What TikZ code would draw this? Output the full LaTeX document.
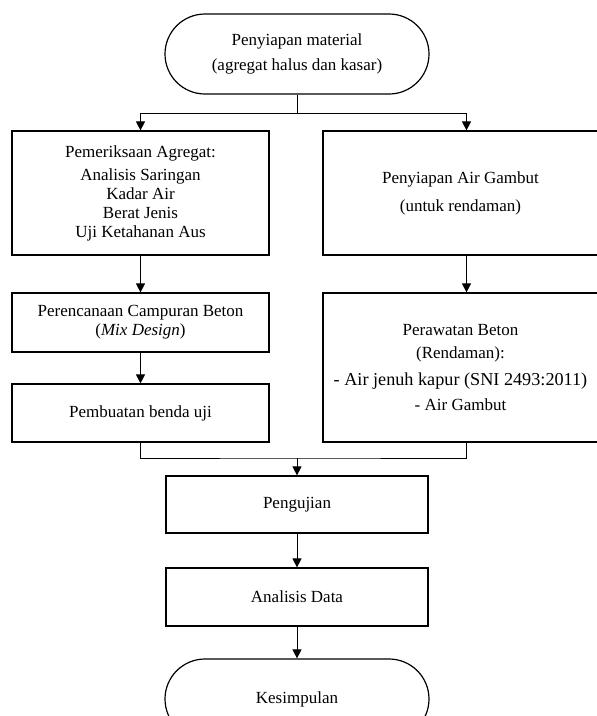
\documentclass[tikz,border=0pt]{standalone}
\usepackage{fontspec}
\setmainfont{Liberation Serif}
\usetikzlibrary{arrows.meta,positioning}

\tikzset{
  box/.style={draw, line width=1.2pt, align=center, inner sep=0pt},
  term/.style={box, rounded corners=40pt, minimum width=264pt, minimum height=80pt},
  link/.style={line width=1pt},
  flow/.style={link, -{Triangle[length=9pt,width=9pt]}}
}
\newcommand{\besar}{\fontsize{18.2}{19}\selectfont}

\begin{document}
\begin{tikzpicture}[x=1pt, y=-1pt, font=\fontsize{17}{19}\selectfont]
        \useasboundingbox (0,0) rectangle (597,716);
        \node[term] (mat) at (297,54) {Penyiapan material\\[6pt](agregat halus dan kasar)};
        \node[box, minimum width=257pt, minimum height=124pt] (periksa) at (140.5,193)
          {Pemeriksaan Agregat:\\[4pt]Analisis Saringan\\Kadar Air\\Berat Jenis\\Uji Ketahanan Aus};
        \node[box, minimum width=275pt, minimum height=124pt] (gambut) at (460.5,193)
          {Penyiapan Air Gambut\\[9pt](untuk rendaman)};
        \node[box, minimum width=257pt, minimum height=59pt] (rencana) at (140.5,322.5)
          {Perencanaan Campuran Beton\\(\textit{Mix Design})};
        \node[box, minimum width=257pt, minimum height=58pt] (buat) at (140.5,413) {Pembuatan benda uji};
        \node[box, minimum width=275pt, minimum height=149pt] (rawat) at (460.5,367.5)
          {Perawatan Beton\\[4pt](Rendaman):\\[8pt]{\besar- Air jenuh kapur (SNI 2493:2011)}\\[6pt]- Air Gambut};
        \node[box, minimum width=262pt, minimum height=57pt] (uji) at (297,504.5) {Pengujian};
        \node[box, minimum width=262pt, minimum height=58pt] (analisis) at (297,597) {Analisis Data};
        \node[term] (simpul) at (297,699) {Kesimpulan};

        % percabangan dan penggabungan
        \coordinate (split) at (297,113);
        \coordinate (join) at (297,458);
        \coordinate (kanan) at (466.5,0);
        \draw[link] (mat) -- (split);
        \draw[flow] (split) -| (periksa);
        \draw[flow] (split) -| (kanan |- gambut.north);
        \draw[flow] (periksa) -- (rencana);
        \draw[flow] (rencana) -- (buat);
        \draw[flow] (kanan |- gambut.south) -- (kanan |- rawat.north);
        \draw[link] (buat) |- (join) -| (kanan |- rawat.south);
        \draw[flow] (join) -- (uji);
        \draw[flow] (uji) -- (analisis);
        \draw[flow] (analisis) -- (simpul);
\end{tikzpicture}
\end{document}
